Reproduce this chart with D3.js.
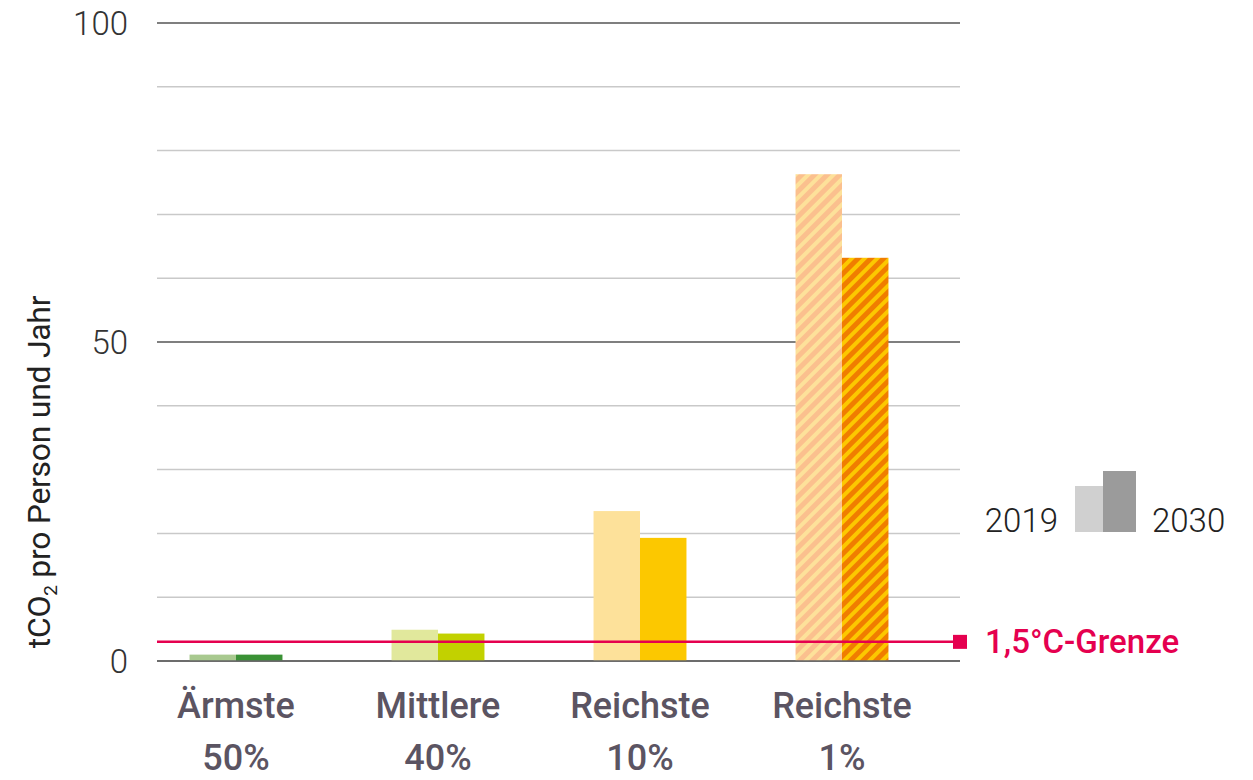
<!DOCTYPE html>
<html>
<head>
<meta charset="utf-8">
<script src="https://cdn.jsdelivr.net/npm/d3@7"></script>
<style>
  body { margin: 0; background: #fff; }
  svg { display: block; }
</style>
</head>
<body>
<div id="chart"></div>
<script>
// Data
var groups = ["Ärmste|50%", "Mittlere|40%", "Reichste|10%", "Reichste|1%"];
var years = ["2019", "2030"];
var values2019 = [1.0, 4.9, 23.5, 76.3];
var values2030 = [1.0, 4.3, 19.3, 63.2];
var tickValues = [0, 10, 20, 30, 40, 50, 60, 70, 80, 90, 100];
var tickLabels = [0, 50, 100];
var limitValue = 3.0;
var limitLabel = "1,5°C-Grenze";

var colors2019 = ["#a8c98f", "#e1e89c", "#fde19a", "#fbc08e"];
var colors2030 = ["#3a9135", "#c2d100", "#fcc800", "#f07d00"];

var svgWidth = 1253, svgHeight = 780;

var svg = d3.select("#chart").append("svg")
    .attr("width", svgWidth)
    .attr("height", svgHeight);

var y = d3.scaleLinear().domain([0, 100]).range([661, 23]);
var x = d3.scaleBand().domain(groups).range([135, 943])
    .paddingInner(0.54).paddingOuter(0.27);
var xYear = d3.scaleBand().domain(years).range([0, x.bandwidth()]);

// hatch patterns for the top 1%
var defs = svg.append("defs");
function hatch(id, base, stripe) {
    var p = defs.append("pattern")
        .attr("id", id)
        .attr("patternUnits", "userSpaceOnUse")
        .attr("width", 9).attr("height", 9)
        .attr("patternTransform", "rotate(45)");
    p.append("rect").attr("width", 9).attr("height", 9).attr("fill", base);
    p.append("rect").attr("width", 4).attr("height", 9).attr("fill", stripe);
}
hatch("hatch2019", "#fbc08e", "#fde19a");
hatch("hatch2030", "#f07d00", "#fcc800");

// gridlines
svg.append("g").selectAll("line")
    .data(tickValues)
    .enter().append("line")
    .attr("x1", 157).attr("x2", 960)
    .attr("y1", d => y(d)).attr("y2", d => y(d))
    .attr("stroke", d => d % 50 === 0 ? "#555" : "#c9c9c9")
    .attr("stroke-width", 1.5);

// y axis labels
var yAxis = d3.axisLeft(y).tickValues(tickLabels).tickSize(0).tickPadding(0);
var yg = svg.append("g").attr("transform", "translate(128,0)").call(yAxis);
yg.select(".domain").remove();
yg.selectAll("text")
    .attr("font-family", "Roboto, 'DejaVu Sans Condensed', sans-serif")
    .attr("font-weight", 300)
    .attr("font-size", 33)
    .attr("fill", "#333")
    .attr("dy", "0.36em");

var yTitle = svg.append("text")
    .attr("transform", "translate(50,472) rotate(-90)")
    .attr("text-anchor", "middle")
    .attr("font-family", "Roboto, sans-serif")
    .attr("font-weight", 400)
    .attr("font-size", 32)
    .attr("letter-spacing", -0.3)
    .attr("fill", "#222");
yTitle.append("tspan").text("tCO");
yTitle.append("tspan").attr("font-size", 19).attr("dy", 7).text("2");
yTitle.append("tspan").attr("dy", -7).text(" pro Person und Jahr");

// bars
var barData = [];
groups.forEach(function(g, i) {
    barData.push({ group: g, year: "2019", value: values2019[i],
        fill: i === 3 ? "url(#hatch2019)" : colors2019[i] });
    barData.push({ group: g, year: "2030", value: values2030[i],
        fill: i === 3 ? "url(#hatch2030)" : colors2030[i] });
});

svg.append("g").selectAll("rect")
    .data(barData)
    .enter().append("rect")
    .attr("x", d => x(d.group) + xYear(d.year))
    .attr("y", d => y(d.value))
    .attr("width", xYear.bandwidth())
    .attr("height", d => y(0) - y(d.value))
    .attr("fill", d => d.fill);

// redraw baseline over bars
svg.append("line")
    .attr("x1", 157).attr("x2", 960)
    .attr("y1", y(0)).attr("y2", y(0))
    .attr("stroke", "#666").attr("stroke-width", 1.5);

// category labels
var catLabels = svg.append("g").selectAll("text")
    .data(groups)
    .enter().append("text")
    .attr("x", d => x(d) + x.bandwidth() / 2)
    .attr("text-anchor", "middle")
    .attr("font-family", "Roboto, sans-serif")
    .attr("font-weight", 500)
    .attr("font-size", 36)
    .attr("fill", "#5b5462");
catLabels.append("tspan")
    .attr("x", d => x(d) + x.bandwidth() / 2)
    .attr("y", 718)
    .text(d => d.split("|")[0]);
catLabels.append("tspan")
    .attr("x", d => x(d) + x.bandwidth() / 2)
    .attr("y", 770)
    .text(d => d.split("|")[1]);

// 1.5°C limit
svg.append("line")
    .attr("x1", 157).attr("x2", 958)
    .attr("y1", y(limitValue)).attr("y2", y(limitValue))
    .attr("stroke", "#e5004f").attr("stroke-width", 2.5);
svg.append("rect")
    .attr("x", 953).attr("y", y(limitValue) - 7)
    .attr("width", 14).attr("height", 14)
    .attr("fill", "#e5004f");
svg.append("text")
    .attr("x", 985).attr("y", y(limitValue) + 11)
    .attr("font-family", "Roboto, sans-serif")
    .attr("font-weight", 500)
    .attr("font-size", 33)
    .attr("fill", "#e5004f")
    .text(limitLabel);

// legend
var legendColors = ["#d0d0d0", "#9b9b9b"];
var legendHeights = [46, 61];
var legendX = [1075, 1103];
var legendW = [28, 33];
svg.append("g").selectAll("rect")
    .data(years)
    .enter().append("rect")
    .attr("x", (d, i) => legendX[i])
    .attr("y", (d, i) => 532 - legendHeights[i])
    .attr("width", (d, i) => legendW[i])
    .attr("height", (d, i) => legendHeights[i])
    .attr("fill", (d, i) => legendColors[i]);

svg.append("g").selectAll("text")
    .data(years)
    .enter().append("text")
    .attr("x", (d, i) => i === 0 ? 1058 : 1152)
    .attr("y", 532)
    .attr("text-anchor", (d, i) => i === 0 ? "end" : "start")
    .attr("font-family", "Roboto, sans-serif")
    .attr("font-weight", 300)
    .attr("font-size", 33)
    .attr("fill", "#222")
    .text(d => d);
</script>
</body>
</html>
